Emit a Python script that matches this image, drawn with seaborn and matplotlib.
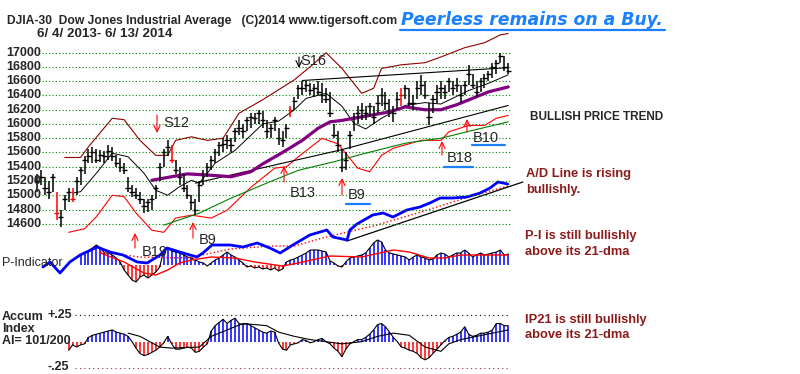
import numpy as np
import pandas as pd
import matplotlib
matplotlib.use("Agg")
import matplotlib.pyplot as plt
import seaborn as sns

sns.set_style("white")
plt.rcParams['font.family'] = ['Liberation Sans', 'DejaVu Sans']

# ---------------- data ----------------
price_hi = [15300,15350,15250,15200,15300,15050,14800,15000,15100,15100,
            15250,15400,15550,15650,15680,15650,15640,15620,15700,15680,
            15560,15520,15450,15250,15150,15100,15050,14950,14950,15000,
            15150,15450,15650,15780,15700,15500,15400,15300,15150,15000,
            14950,15200,15350,15450,15550,15650,15750,15800,15850,15800,
            15950,16050,16000,16100,16150,16150,16200,16180,16050,16000,
            16100,15950,15900,16000,16250,16380,16550,16600,16600,16580,
            16560,16600,16580,16500,16450,16000,15900,15650,15600,15900,
            16150,16250,16300,16250,16300,16250,16400,16500,16450,16350,
            16250,16450,16500,16550,16500,16400,16600,16690,16600,16300,
            16400,16550,16600,16550,16650,16600,16650,16550,16600,16830,
            16700,16600,16650,16700,16750,16850,16900,17000,16950,16850]
price_lo = [15050,15150,15000,14950,15050,14650,14550,14800,14900,14900,
            15000,15150,15300,15450,15450,15450,15470,15450,15500,15480,
            15400,15330,15300,15050,14980,14950,14880,14750,14770,14800,
            14950,15200,15400,15550,15450,15300,15150,15050,14950,14800,
            14720,14900,15150,15250,15350,15450,15550,15600,15650,15600,
            15750,15850,15800,15900,15950,16000,16000,15950,15800,15800,
            15900,15700,15680,15800,16100,16200,16350,16400,16450,16400,
            16380,16400,16300,16300,16100,15800,15600,15330,15350,15650,
            15900,16000,16050,16050,16100,16000,16150,16250,16200,16100,
            16030,16200,16250,16350,16250,16200,16350,16400,16350,15980,
            16150,16300,16350,16350,16450,16400,16450,16300,16400,16550,
            16500,16380,16450,16500,16600,16650,16700,16850,16750,16700]
price_cl = [15200,15250,15100,15050,15250,14750,14700,14950,15050,14950,
            15200,15350,15500,15550,15600,15500,15560,15550,15620,15550,
            15450,15400,15350,15100,15050,15000,14950,14850,14900,14950,
            15100,15400,15600,15680,15500,15350,15250,15100,15000,14900,
            14800,15150,15300,15400,15500,15600,15700,15720,15780,15700,
            15900,15950,15900,16050,16100,16080,16150,16050,15900,15950,
            16050,15800,15780,15950,16200,16320,16500,16500,16550,16480,
            16500,16450,16400,16350,16150,15850,15700,15400,15500,15850,
            16100,16150,16200,16150,16250,16100,16300,16400,16300,16200,
            16150,16350,16400,16500,16300,16300,16500,16550,16400,16100,
            16350,16450,16500,16450,16600,16500,16550,16400,16550,16700,
            16550,16450,16600,16650,16700,16800,16850,16950,16800,16750]
red_bars = [5, 9, 34, 64, 92]

price_levels = [17000,16800,16600,16400,16200,16000,15800,15600,15400,15200,15000,14800,14600]

ub_x = [7,11,13,19,22,26,30,33,35,39,43,47,51,57,65,70,73,77,82,85,87,92,98,102,108,113,117,119]
ub_y = [15530,15530,15680,16080,16060,15770,15560,15560,15770,15820,15770,15800,16150,16340,
        16620,16850,17000,16780,16430,16500,16780,16830,16860,16940,17070,17140,17250,17270]
lb_x = [8,12,15,19,22,25,29,32,35,39,44,48,54,60,63,66,72,76,81,84,87,90,97,102,104,109,113,116,119]
lb_y = [14480,14530,14700,15000,14980,14750,14510,14480,14680,14720,14680,14790,15110,15380,
        15400,15540,15800,15720,15380,15330,15560,15660,15770,15770,15890,15980,15980,16080,16120]
ma21_x = [9,11,15,19,23,27,30,33,36,39,41,45,50,57,61,65,68,73,77,80,83,87,93,98,102,109,114,119]
ma21_y = [15030,15050,15310,15590,15540,15310,15070,15000,15120,15210,15170,15450,15630,16000,
          16040,16200,16360,16430,16250,16010,15930,16080,16260,16300,16280,16470,16570,16690]
ma65_x = [29,34,38,44,49,54,57,62,67,71,74,77,85,89,93,98,102,106,110,114,119]
ma65_y = [15210,15260,15300,15280,15260,15330,15440,15600,15770,15940,16030,16050,16130,
          16170,16240,16200,16200,16270,16360,16450,16520]
ma200_x = [32,41,49,58,66,75,83,93,102,110,119]
ma200_y = [14580,14750,14960,15170,15350,15470,15590,15730,15800,15910,16030]
top_line_x = [67,119]
top_line_y = [16610,16790]
low_line_x = [40,77,119]
low_line_y = [15170,15640,16260]

ad_x = [1.5,3.3,5.8,8.3,10.9,15.2,18.4,21.7,25.3,27.8,31.1,32.8,36.9,40.4,41.9,44.2,48.7,52,55.6,
        58.8,61.4,64.6,68.9,73.2,74.7,78.3,79,80.8,84.8,87.4,89.9,93.4,96.7,99.2,101.8,105,
        108.6,111.9,114.4,116.4,117.7,118.9]
ad_y = [23,28,17,28,35,43,38,35,28,27,35,42,37,33,37,45,45,43,47,42,37,45,55,60,53,50,60,66,
        75,77,73,80,83,87,92,92,93,97,102,108,107,106]
adma_x = [16,26,38,49,59,65,73,85,97,109,119]
adma_y = [38,33,32,41,44,44,53,64,78,93,104]
adtrend_x = [78.3,122.7]
adtrend_y = [49,108]

pind = [np.nan]*11 + [10,12,14,17,20,17,12,12,10,
        7,3,-5,-10,-15,-17,-12,-10,-13,-10,
        -7,-2,15,17,14,13,12,10,8,7,
        5,3,2,-1,2,5,7,10,13,10,
        8,5,2,-2,-1,-3,-2,-4,-3,-5,
        -3,-6,-4,3,5,6,8,10,12,15,
        15,15,14,13,4,2,-1,-2,3,7,
        8,9,10,12,17,22,25,23,15,12,
        11,10,9,8,5,8,10,8,7,5,
        6,10,12,11,8,10,12,12,15,12,
        8,10,12,10,11,12,13,15,10,11]
pma_x = [16,22,27,30,33,36,39,44,50,55,62,66,74,82,90,94,99,103,107,115,119]
pma_y = [12,3,-8,-10,-5,2,5,8,7,3,-1,2,9,8,15,13,7,7,10,10,10]

accum = [np.nan]*8 + [-0.08,-0.03,
         -0.05,-0.03,-0.02,0.04,0.06,0.07,0.08,0.09,0.10,0.11,
         0.09,0.08,0.07,0.05,0.00,-0.06,-0.11,-0.13,-0.12,-0.10,
         -0.08,-0.05,-0.01,0.05,-0.02,-0.07,-0.07,-0.06,-0.05,-0.06,
         -0.10,-0.09,-0.05,-0.02,0.10,0.15,0.18,0.21,0.17,0.20,
         0.22,0.17,0.16,0.17,0.15,0.13,0.11,0.09,0.08,0.10,
         0.09,-0.01,-0.07,-0.08,-0.03,-0.02,-0.01,0.02,0.01,-0.01,
         0.00,0.02,0.03,0.00,-0.02,-0.06,-0.09,-0.14,-0.07,-0.02,
         0.00,0.02,0.02,0.04,0.07,0.11,0.16,0.17,0.14,0.09,
         0.04,0.00,-0.05,-0.06,-0.08,-0.09,-0.11,-0.15,-0.17,-0.15,
         -0.11,-0.07,-0.03,0.01,0.04,0.05,0.07,0.09,0.14,0.07,
         0.05,0.06,0.08,0.08,0.09,0.11,0.17,0.17,0.15,0.15]
ama_x = [23,26,31,34,41,44,48,52,58,61,65,69,73,77,82,86,90,94,98,102,104,107,111,115,119]
ama_y = [0.08,0.05,-0.05,-0.06,-0.05,0.05,0.11,0.17,0.15,0.09,0.05,0.02,0.0,-0.02,0.0,0.05,
         0.08,0.06,-0.05,-0.09,-0.02,0.02,0.05,0.08,0.11]

# ---------------- layout ----------------
W, H = 800, 374
fig = plt.figure(figsize=(8, 3.74), dpi=100)
fig.patch.set_facecolor('white')

def rect(x0, y0, x1, y1):
    return [x0 / W, 1 - y1 / H, (x1 - x0) / W, (y1 - y0) / H]

def px2i(px):
    return (px - 37) / 3.96

def py2price(py):
    return 17000 - (py - 52.7) * 14.03

def sline(ax, x, y, **kw):
    sns.lineplot(x=np.asarray(x, float), y=np.asarray(y, float), ax=ax, estimator=None,
                 sort=False, legend=False, **kw)

def clean(ax):
    ax.set_axis_off()
    ax.patch.set_alpha(0)

XL = (px2i(30), px2i(515))
idx = np.arange(len(price_cl))

# P-indicator panel
axp = fig.add_axes(rect(30, 230, 515, 290))
clean(axp)
axp.set_xlim(*XL); axp.set_ylim(-25, 35)
pv = np.array(pind, float)
m = ~np.isnan(pv)
axp.vlines(idx[m], 0, pv[m], colors=np.where(pv[m] >= 0, '#0000FF', '#FF0000'), linewidth=1.1)
sline(axp, idx[m], pv[m], color='black', linewidth=0.8)
sline(axp, pma_x, pma_y, color='#FF0000', linewidth=1.0)

# A/D line panel (overlaps lower price area)
axa = fig.add_axes(rect(30, 170, 515, 290))
clean(axa)
axa.set_xlim(*XL); axa.set_ylim(0, 120)
sline(axa, adma_x, adma_y, color='#FF0000', linewidth=1.0, linestyle=':')
sline(axa, adtrend_x, adtrend_y, color='black', linewidth=0.9, clip_on=False)
sline(axa, ad_x, ad_y, color='#0000FF', linewidth=2.0)

# Price panel
ax = fig.add_axes(rect(30, 30, 515, 240))
clean(ax)
ax.set_xlim(*XL); ax.set_ylim(py2price(240), py2price(30))
ax.hlines(price_levels, px2i(42), px2i(510), colors='#008000', linestyles=(0, (1, 2)), linewidth=0.8)
for lv in price_levels:
    ax.text(px2i(41), lv, str(lv), ha='right', va='center', fontsize=9, weight='bold', clip_on=False)
sline(ax, ub_x, ub_y, color='#8B0000', linewidth=0.8)
sline(ax, lb_x, lb_y, color='#FF0000', linewidth=0.8)
sline(ax, ma200_x, ma200_y, color='#008000', linewidth=0.8)
sline(ax, low_line_x, low_line_y, color='black', linewidth=0.8)
sline(ax, top_line_x, top_line_y, color='black', linewidth=0.8)
sline(ax, ma21_x, ma21_y, color='black', linewidth=0.7)
sline(ax, ma65_x, ma65_y, color='#800080', linewidth=2.3)
bar_col = ['#FF0000' if i in red_bars else 'black' for i in idx]
ax.vlines(idx, price_lo, price_hi, colors=bar_col, linewidth=1.1)
ax.scatter(idx, price_cl, marker='_', s=14, c=bar_col, linewidths=1.0)

# Accumulation index panel
axc = fig.add_axes(rect(30, 300, 515, 374))
clean(axc)
axc.set_xlim(*XL)
axc.set_ylim((341.7 - 374) / 26.7 * 0.25, (341.7 - 300) / 26.7 * 0.25)
av = np.array(accum, float)
ma = ~np.isnan(av)
axc.hlines([0.25], px2i(75), px2i(510), colors='black', linestyles=(0, (1, 3)), linewidth=0.8)
axc.hlines([-0.25], px2i(75), px2i(510), colors='#A0206E', linestyles=(0, (1, 3)), linewidth=0.8)
axc.vlines(idx[ma], 0, av[ma], colors=np.where(av[ma] >= 0, '#0000FF', '#FF0000'), linewidth=1.1)
sline(axc, idx[ma], av[ma], color='black', linewidth=0.8)
sline(axc, ama_x, ama_y, color='black', linewidth=0.8)

# ---------------- annotation overlay (pixel coordinates) ----------------
ov = fig.add_axes([0, 0, 1, 1])
clean(ov)
ov.set_xlim(0, W); ov.set_ylim(H, 0)

ov.text(7, 21, "DJIA-30  Dow Jones Industrial Average   (C)2014 www.tigersoft.com",
        fontsize=8.7, weight='bold', va='center')
ov.text(37, 34, "6/ 4/ 2013- 6/ 13/ 2014", fontsize=9.6, weight='bold', va='center')
blue = '#1A80FF'
ov.text(401, 20, "Peerless remains on a Buy.", fontsize=12.4, weight='bold', style='italic',
        color=blue, va='center', family='DejaVu Sans')
ov.plot([400, 665], [30, 30], color=blue, linewidth=1.6)

def arrow(x, y0, y1, color='red'):
    ov.annotate('', xy=(x, y1), xytext=(x, y0),
                arrowprops=dict(arrowstyle='->,head_length=0.45,head_width=0.22', color=color,
                                lw=0.8, shrinkA=0, shrinkB=0))

arrow(135, 248, 233); ov.text(142, 252, "B19", fontsize=10.5, va='center')
arrow(193, 238, 222); ov.text(199, 240, "B9", fontsize=10.5, va='center')
arrow(284, 182, 166); ov.text(290, 193, "B13", fontsize=10.5, va='center')
arrow(342, 195, 178); ov.text(348, 195, "B9", fontsize=10.5, va='center')
ov.plot([346, 370], [204, 204], color=blue, linewidth=1.6)
arrow(442, 155, 141); ov.text(447, 158, "B18", fontsize=10.5, va='center')
ov.plot([444, 473], [167, 167], color=blue, linewidth=1.6)
arrow(467, 132, 119); ov.text(473, 138, "B10", fontsize=10.5, va='center')
ov.plot([472, 505], [145, 145], color=blue, linewidth=1.6)
arrow(157, 115, 133); ov.text(163, 123, "S12", fontsize=10.5, va='center')
arrow(299, 57, 68, color='black'); ov.text(300, 61, "S16", fontsize=10.5, va='center')

dred = '#8B1A1A'
ov.text(530, 117, "BULLISH PRICE TREND", fontsize=8.5, weight='bold', va='center')
ov.text(526, 174, "A/D Line is rising", fontsize=9.3, weight='bold', color=dred, va='center')
ov.text(526, 190, "bullishly.", fontsize=9.3, weight='bold', color=dred, va='center')
ov.text(525, 236, "P-I is still bullishly", fontsize=9.3, weight='bold', color=dred, va='center')
ov.text(525, 252, "above its 21-dma", fontsize=9.3, weight='bold', color=dred, va='center')
ov.text(525, 320, "IP21 is still bullishly", fontsize=9.3, weight='bold', color=dred, va='center')
ov.text(525, 335, "above its 21-dma", fontsize=9.3, weight='bold', color=dred, va='center')

ov.text(2, 263, "P-Indicator", fontsize=9, va='center')
ov.text(2, 317, "Accum", fontsize=9, weight='bold', va='center')
ov.text(2, 329, "Index", fontsize=9, weight='bold', va='center')
ov.text(2, 341, "AI= 101/200", fontsize=9, weight='bold', va='center')
ov.text(47, 315, "+.25", fontsize=9, weight='bold', va='center')
ov.text(47, 367, "-.25", fontsize=9, weight='bold', va='center')

fig.savefig("out.png", dpi=100, facecolor='white')
